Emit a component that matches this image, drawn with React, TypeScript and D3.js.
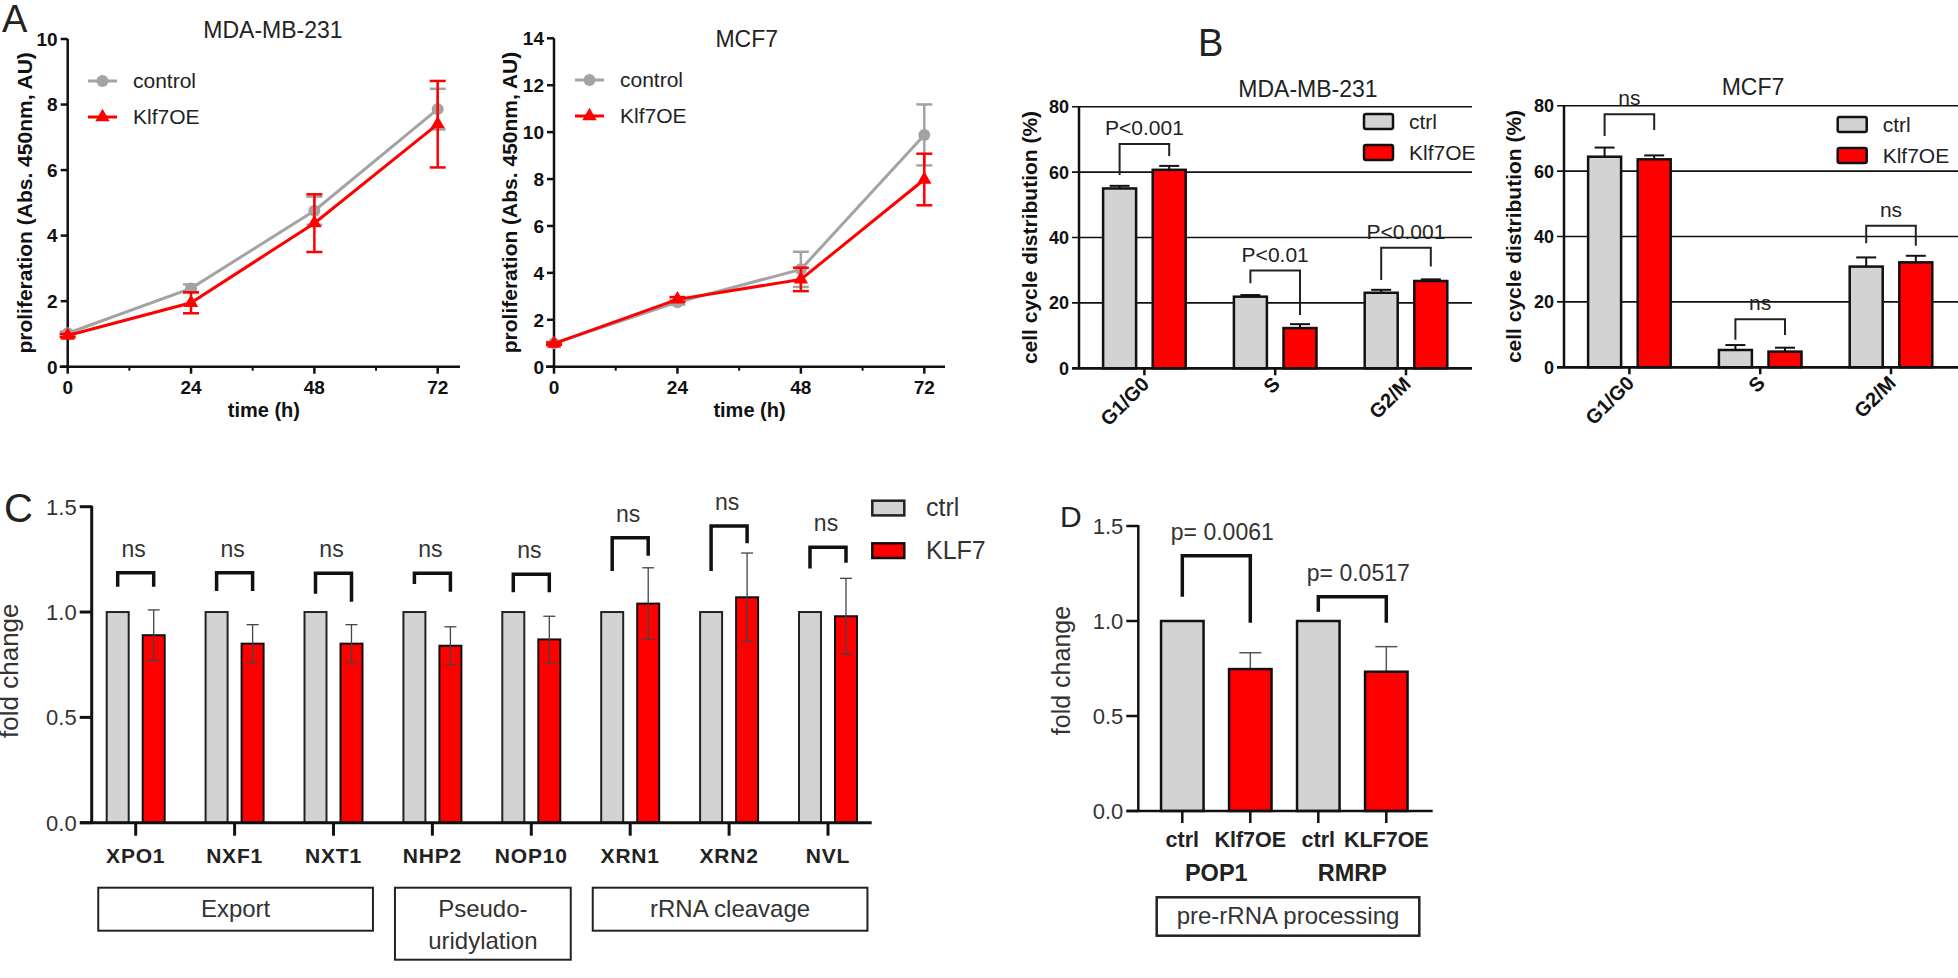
import React from 'react';
import * as d3 from 'd3';

const FONT = "'Liberation Sans', Arial, Helvetica, sans-serif";

// ---------- Panel A data ----------
const timePoints = [0, 24, 48, 72];
const minorTimes = [12, 36, 60];
const mdaControl = [1.02, 2.39, 4.76, 7.86];
const mdaControlErr = [0.05, 0.12, 0.43, 0.62];
const mdaKlf = [0.95, 1.95, 4.38, 7.4];
const mdaKlfErr = [0.05, 0.32, 0.88, 1.32];
const mcfControl = [1.0, 2.75, 4.15, 9.88];
const mcfControlErr = [0.05, 0.1, 0.75, 1.3];
const mcfKlf = [0.98, 2.87, 3.72, 7.98];
const mcfKlfErr = [0.05, 0.1, 0.5, 1.1];
const mdaYTicks = [0, 2, 4, 6, 8, 10];
const mcfYTicks = [0, 2, 4, 6, 8, 10, 12, 14];

// ---------- Panel B data ----------
const phases = ['G1/G0', 'S', 'G2/M'];
const ccYTicks = [0, 20, 40, 60, 80];
const mdaCcCtrl = [55.0, 21.9, 23.1];
const mdaCcCtrlErr = [0.8, 0.5, 0.9];
const mdaCcKlf = [60.7, 12.3, 26.7];
const mdaCcKlfErr = [1.2, 1.2, 0.5];
const mdaCcBracketLeft = [59.1, 26.0, 27.0];
const mdaCcBracketTop = [68.6, 29.9, 36.9];
const mdaCcBracketRight = [64.9, 16.3, 31.1];
const mdaCcLabels = ['P<0.001', 'P<0.01', 'P<0.001'];
const mcfCcCtrl = [64.4, 5.3, 30.8];
const mcfCcCtrlErr = [2.8, 1.5, 2.8];
const mcfCcKlf = [63.6, 4.8, 32.1];
const mcfCcKlfErr = [1.2, 1.2, 2.0];
const mcfCcBracketLeft = [70.7, 8.4, 37.9];
const mcfCcBracketTop = [77.4, 14.7, 43.3];
const mcfCcBracketRight = [72.6, 9.9, 37.2];
const mcfCcLabels = ['ns', 'ns', 'ns'];

// ---------- Panel C data ----------
const genes = ['XPO1', 'NXF1', 'NXT1', 'NHP2', 'NOP10', 'XRN1', 'XRN2', 'NVL'];
const geneCtrl = [1, 1, 1, 1, 1, 1, 1, 1];
const geneKlf = [0.89, 0.85, 0.85, 0.84, 0.87, 1.04, 1.07, 0.98];
const geneKlfErr = [0.12, 0.09, 0.09, 0.09, 0.11, 0.17, 0.21, 0.18];
const geneBracketTop = [1.186, 1.186, 1.184, 1.184, 1.179, 1.353, 1.408, 1.307];
const geneBracketLeft = [1.12, 1.1, 1.087, 1.133, 1.094, 1.195, 1.195, 1.207];
const geneBracketRight = [1.12, 1.1, 1.049, 1.096, 1.094, 1.267, 1.326, 1.234];
const foldTicks = [0, 0.5, 1.0, 1.5];
const geneGroups = [
  { lines: ['Export'], first: 0, last: 2 },
  { lines: ['Pseudo-', 'uridylation'], first: 3, last: 4 },
  { lines: ['rRNA cleavage'], first: 5, last: 7 },
];

// ---------- Panel D data ----------
const dConditions = ['ctrl', 'Klf7OE', 'ctrl', 'KLF7OE'];
const dGenes = ['POP1', 'RMRP'];
const dValues = [1.0, 0.747, 1.0, 0.733];
const dErr = [0, 0.086, 0, 0.132];
const dBracketLeft = [1.128, 1.049];
const dBracketTop = [1.344, 1.128];
const dBracketRight = [0.991, 0.991];
const dPLabels = ['p= 0.0061', 'p= 0.0517'];

const GRAY = '#d3d3d3';
const RED = '#ff0000';
const LINEGRAY = '#a3a3a3';

function LinePanel(props: any) {
  const { axisX, x72, endX, top, bottom, yMax, yTicks, ctrl, ctrlErr, klf, klfErr, title, titleX, titleY, legX, legY, labelX } = props;
  const x = d3.scaleLinear().domain([0, 72]).range([axisX, x72]);
  const y = d3.scaleLinear().domain([0, yMax]).range([bottom, top]);
  const line = d3.line<number>().x((_, i) => x(timePoints[i])).y((d) => y(d));
  const tri = d3.symbol().type(d3.symbolTriangle).size(90)();
  const errBar = (vals: number[], errs: number[], color: string, key: string) =>
    vals.map((v, i) => {
      const cx = x(timePoints[i]);
      return (
        <g key={key + i} stroke={color} strokeWidth={2.5}>
          <line x1={cx} x2={cx} y1={y(v + errs[i])} y2={y(v - errs[i])} />
          <line x1={cx - 8} x2={cx + 8} y1={y(v + errs[i])} y2={y(v + errs[i])} />
          <line x1={cx - 8} x2={cx + 8} y1={y(v - errs[i])} y2={y(v - errs[i])} />
        </g>
      );
    });
  return (
    <g fontFamily={FONT}>
      <text x={titleX} y={titleY} fontSize={23} textAnchor="middle" fill="#222">{title}</text>
      <line x1={axisX} x2={axisX} y1={y(0) + 1} y2={y(yMax)} stroke="#111" strokeWidth={2.5} />
      <line x1={axisX - 8} x2={endX} y1={y(0)} y2={y(0)} stroke="#111" strokeWidth={2.5} />
      {yTicks.map((t: number) => (
        <g key={'yt' + t}>
          <line x1={axisX - 7} x2={axisX} y1={y(t)} y2={y(t)} stroke="#111" strokeWidth={2.5} />
          <text x={axisX - 10} y={y(t)} dy="0.36em" fontSize={19} fontWeight="bold" textAnchor="end" fill="#111">{t}</text>
        </g>
      ))}
      {timePoints.map((t) => (
        <g key={'xt' + t}>
          <line x1={x(t)} x2={x(t)} y1={y(0)} y2={y(0) + 7} stroke="#111" strokeWidth={2.5} />
          <text x={x(t)} y={y(0) + 27} fontSize={19} fontWeight="bold" textAnchor="middle" fill="#111">{t}</text>
        </g>
      ))}
      {minorTimes.map((t) => (
        <line key={'mt' + t} x1={x(t)} x2={x(t)} y1={y(0)} y2={y(0) + 4} stroke="#111" strokeWidth={2} />
      ))}
      <text x={(axisX + endX) / 2} y={y(0) + 50} fontSize={20} fontWeight="bold" textAnchor="middle" fill="#111">time (h)</text>
      <text transform={`translate(${labelX},${(top + bottom) / 2}) rotate(-90)`} fontSize={21} fontWeight="bold" textAnchor="middle" fill="#111">proliferation (Abs. 450nm, AU)</text>
      {errBar(ctrl, ctrlErr, LINEGRAY, 'ce')}
      <path d={line(ctrl) || ''} fill="none" stroke={LINEGRAY} strokeWidth={3} />
      {ctrl.map((v: number, i: number) => (
        <circle key={'cp' + i} cx={x(timePoints[i])} cy={y(v)} r={6} fill={LINEGRAY} />
      ))}
      {errBar(klf, klfErr, RED, 'ke')}
      <path d={line(klf) || ''} fill="none" stroke={RED} strokeWidth={3} />
      {klf.map((v: number, i: number) => (
        <path key={'kp' + i} d={tri || ''} transform={`translate(${x(timePoints[i])},${y(v)})`} fill={RED} />
      ))}
      <line x1={legX} x2={legX + 29} y1={legY} y2={legY} stroke={LINEGRAY} strokeWidth={3} />
      <circle cx={legX + 14.5} cy={legY} r={6} fill={LINEGRAY} />
      <text x={legX + 45} y={legY + 7} fontSize={21} fill="#222">control</text>
      <line x1={legX} x2={legX + 29} y1={legY + 36} y2={legY + 36} stroke={RED} strokeWidth={3} />
      <path d={tri || ''} transform={`translate(${legX + 14.5},${legY + 36})`} fill={RED} />
      <text x={legX + 45} y={legY + 43} fontSize={21} fill="#222">Klf7OE</text>
    </g>
  );
}

function CellCyclePanel(props: any) {
  const { axisX, endX, top, bottom, ctrl, ctrlErr, klf, klfErr, bl, bt, br, labels, title, titleX, titleY, legX, legY, labelX } = props;
  const y = d3.scaleLinear().domain([0, 80]).range([bottom, top]);
  const xb = d3.scaleBand<string>().domain(phases).range([axisX, axisX + 3 * 130.8]);
  const cx = (p: string) => (xb(p) as number) + xb.bandwidth() / 2;
  const off = 24.8;
  const bw = 33;
  return (
    <g fontFamily={FONT}>
      <text x={titleX} y={titleY} fontSize={23} textAnchor="middle" fill="#222">{title}</text>
      {ccYTicks.map((t) => (
        <g key={'g' + t}>
          <line x1={axisX - 7} x2={endX} y1={y(t)} y2={y(t)} stroke="#111" strokeWidth={t === 0 ? 2.5 : 1.6} />
          <text x={axisX - 10} y={y(t)} dy="0.36em" fontSize={18} fontWeight="bold" textAnchor="end" fill="#111">{t}</text>
        </g>
      ))}
      <line x1={axisX} x2={axisX} y1={y(0)} y2={y(80)} stroke="#111" strokeWidth={2.5} />
      <text transform={`translate(${labelX},${(top + bottom) / 2}) rotate(-90)`} fontSize={21} fontWeight="bold" textAnchor="middle" fill="#111">cell cycle distribution (%)</text>
      {phases.map((p, i) => {
        const c = cx(p);
        const xl = c - off;
        const xr = c + off;
        return (
          <g key={p}>
            <line x1={xl} x2={xl} y1={y(ctrl[i])} y2={y(ctrl[i] + ctrlErr[i])} stroke="#111" strokeWidth={2} />
            <line x1={xl - 10} x2={xl + 10} y1={y(ctrl[i] + ctrlErr[i])} y2={y(ctrl[i] + ctrlErr[i])} stroke="#111" strokeWidth={2} />
            <line x1={xr} x2={xr} y1={y(klf[i])} y2={y(klf[i] + klfErr[i])} stroke="#111" strokeWidth={2} />
            <line x1={xr - 10} x2={xr + 10} y1={y(klf[i] + klfErr[i])} y2={y(klf[i] + klfErr[i])} stroke="#111" strokeWidth={2} />
            <rect x={xl - bw / 2} y={y(ctrl[i])} width={bw} height={y(0) - y(ctrl[i])} fill={GRAY} stroke="#111" strokeWidth={2.5} />
            <rect x={xr - bw / 2} y={y(klf[i])} width={bw} height={y(0) - y(klf[i])} fill={RED} stroke="#111" strokeWidth={2.5} />
            <line x1={c} x2={c} y1={y(0)} y2={y(0) + 7} stroke="#111" strokeWidth={2.5} />
            <text transform={`translate(${c + 6},${y(0) + 17}) rotate(-45)`} fontSize={20} fontWeight="bold" textAnchor="end" fill="#111">{p}</text>
            <path d={`M${xl},${y(bl[i])}V${y(bt[i])}H${xr}V${y(br[i])}`} fill="none" stroke="#222" strokeWidth={2} />
            <text x={c} y={y(bt[i]) - 9} fontSize={21} textAnchor="middle" fill="#222">{labels[i]}</text>
          </g>
        );
      })}
      <line x1={axisX - 7} x2={endX} y1={y(0)} y2={y(0)} stroke="#111" strokeWidth={2.5} />
      <rect x={legX} y={legY} width={29} height={15} rx={2} fill={GRAY} stroke="#111" strokeWidth={2.5} />
      <text x={legX + 45} y={legY + 15} fontSize={21} fill="#222">ctrl</text>
      <rect x={legX} y={legY + 31} width={29} height={15} rx={2} fill={RED} stroke="#111" strokeWidth={2.5} />
      <text x={legX + 45} y={legY + 46} fontSize={21} fill="#222">Klf7OE</text>
    </g>
  );
}

function GenePanel() {
  const axisX = 91.7;
  const y = d3.scaleLinear().domain([0, 1.5]).range([822.7, 506.7]);
  const xb = d3.scaleBand<string>().domain(genes).range([86.25, 86.25 + 8 * 98.9]);
  const cx = (g: string) => (xb(g) as number) + xb.bandwidth() / 2;
  const off = 18;
  const bw = 22;
  return (
    <g fontFamily={FONT}>
      <text x={4} y={522} fontSize={40} fill="#222">C</text>
      {foldTicks.map((t) => (
        <g key={'ct' + t}>
          <line x1={axisX - 12} x2={axisX} y1={y(t)} y2={y(t)} stroke="#111" strokeWidth={3} />
          <text x={axisX - 15} y={y(t)} dy="0.36em" fontSize={22} textAnchor="end" fill="#333">{t.toFixed(1)}</text>
        </g>
      ))}
      <line x1={axisX} x2={axisX} y1={y(0)} y2={y(1.5) - 1} stroke="#111" strokeWidth={3} />
      <text transform={`translate(18,${(506.7 + 822.7) / 2 + 6}) rotate(-90)`} fontSize={26} textAnchor="middle" fill="#333">fold change</text>
      {genes.map((g, i) => {
        const c = cx(g);
        const xl = c - off;
        const xr = c + off;
        return (
          <g key={g}>
            <rect x={xl - bw / 2} y={y(geneCtrl[i])} width={bw} height={y(0) - y(geneCtrl[i])} fill={GRAY} stroke="#222" strokeWidth={2} />
            <rect x={xr - bw / 2} y={y(geneKlf[i])} width={bw} height={y(0) - y(geneKlf[i])} fill={RED} stroke="#111" strokeWidth={2} />
            <g stroke="#444" strokeWidth={1.3}>
              <line x1={xr} x2={xr} y1={y(geneKlf[i] + geneKlfErr[i])} y2={y(geneKlf[i] - geneKlfErr[i])} />
              <line x1={xr - 6} x2={xr + 6} y1={y(geneKlf[i] + geneKlfErr[i])} y2={y(geneKlf[i] + geneKlfErr[i])} />
              <line x1={xr - 6} x2={xr + 6} y1={y(geneKlf[i] - geneKlfErr[i])} y2={y(geneKlf[i] - geneKlfErr[i])} />
            </g>
            <line x1={c} x2={c} y1={y(0)} y2={y(0) + 13} stroke="#111" strokeWidth={3} />
            <text x={c} y={862.7} fontSize={21} fontWeight="bold" letterSpacing={0.8} textAnchor="middle" fill="#222">{g}</text>
            <path d={`M${xl},${y(geneBracketLeft[i])}V${y(geneBracketTop[i])}H${xr}V${y(geneBracketRight[i])}`} fill="none" stroke="#111" strokeWidth={3.5} />
            <text x={c - 2} y={y(geneBracketTop[i]) - 16} fontSize={23} textAnchor="middle" fill="#333">ns</text>
          </g>
        );
      })}
      <line x1={80} x2={871.7} y1={y(0)} y2={y(0)} stroke="#111" strokeWidth={3} />
      {geneGroups.map((grp) => {
        const x0 = (xb(genes[grp.first]) as number) + 12;
        const x1 = (xb(genes[grp.last]) as number) + xb.bandwidth() - 10;
        const h = grp.lines.length > 1 ? 72 : 43;
        return (
          <g key={grp.lines.join('')}>
            <rect x={x0} y={887.7} width={x1 - x0} height={h} fill="white" stroke="#222" strokeWidth={2} />
            {grp.lines.map((ln, k) => (
              <text key={ln} x={(x0 + x1) / 2} y={917 + k * 31.5} fontSize={24} textAnchor="middle" fill="#333">{ln}</text>
            ))}
          </g>
        );
      })}
      <rect x={872.3} y={500.7} width={32} height={14.7} fill={GRAY} stroke="#222" strokeWidth={2.5} />
      <text x={926} y={516} fontSize={25} fill="#333">ctrl</text>
      <rect x={872.3} y={543.3} width={32} height={14.7} fill={RED} stroke="#111" strokeWidth={2.5} />
      <text x={926} y={559} fontSize={25} fill="#333">KLF7</text>
    </g>
  );
}

function ProcessingPanel() {
  const axisX = 1138.3;
  const y = d3.scaleLinear().domain([0, 1.5]).range([811, 526]);
  const idx = dConditions.map((_, i) => String(i));
  const xb = d3.scaleBand<string>().domain(idx).range([1148.3, 1148.3 + 4 * 68]);
  const cx = (i: number) => (xb(String(i)) as number) + xb.bandwidth() / 2;
  const bw = 42.5;
  return (
    <g fontFamily={FONT}>
      <text x={1060} y={527} fontSize={30} fill="#222">D</text>
      {foldTicks.map((t) => (
        <g key={'dt' + t}>
          <line x1={axisX - 12} x2={axisX} y1={y(t)} y2={y(t)} stroke="#111" strokeWidth={2.5} />
          <text x={axisX - 15} y={y(t)} dy="0.36em" fontSize={22} textAnchor="end" fill="#333">{t.toFixed(1)}</text>
        </g>
      ))}
      <line x1={axisX} x2={axisX} y1={y(0)} y2={y(1.5) - 1} stroke="#111" strokeWidth={2.5} />
      <text transform={`translate(1070,${(526 + 811) / 2 + 2}) rotate(-90)`} fontSize={25} textAnchor="middle" fill="#333">fold change</text>
      {dConditions.map((cnd, i) => {
        const c = cx(i);
        const v = dValues[i];
        return (
          <g key={'d' + i}>
            {dErr[i] > 0 && (
              <g stroke="#555" strokeWidth={1.5}>
                <line x1={c} x2={c} y1={y(v)} y2={y(v + dErr[i])} />
                <line x1={c - 11} x2={c + 11} y1={y(v + dErr[i])} y2={y(v + dErr[i])} />
              </g>
            )}
            <rect x={c - bw / 2} y={y(v)} width={bw} height={y(0) - y(v)} fill={i % 2 === 0 ? GRAY : RED} stroke="#111" strokeWidth={2.5} />
            <line x1={c} x2={c} y1={y(0)} y2={y(0) + 12} stroke="#111" strokeWidth={2.5} />
            <text x={c} y={846.7} fontSize={21.5} fontWeight="bold" textAnchor="middle" fill="#222">{cnd}</text>
          </g>
        );
      })}
      {dGenes.map((g, j) => {
        const xl = cx(2 * j);
        const xr = cx(2 * j + 1);
        return (
          <g key={g}>
            <text x={(xl + xr) / 2} y={880.7} fontSize={23.5} fontWeight="bold" textAnchor="middle" fill="#222">{g}</text>
            <path d={`M${xl},${y(dBracketLeft[j])}V${y(dBracketTop[j])}H${xr}V${y(dBracketRight[j])}`} fill="none" stroke="#111" strokeWidth={3.5} />
            <text x={(xl + xr) / 2 + 6} y={y(dBracketTop[j]) - 16} fontSize={23} textAnchor="middle" fill="#333">{dPLabels[j]}</text>
          </g>
        );
      })}
      <line x1={1126.7} x2={1432.7} y1={y(0)} y2={y(0)} stroke="#111" strokeWidth={2.5} />
      <rect x={1156.7} y={897.3} width={262.6} height={38.4} fill="white" stroke="#222" strokeWidth={2.5} />
      <text x={1288} y={924} fontSize={24} textAnchor="middle" fill="#333">pre-rRNA processing</text>
    </g>
  );
}

export default function App() {
  return (
    <svg width={1958} height={978} style={{ position: 'absolute', left: 0, top: 0, background: 'white' }}>
      <rect x={0} y={0} width={1958} height={978} fill="white" />
      <text x={2} y={32} fontSize={38} fontFamily={FONT} fill="#222">A</text>
      <LinePanel axisX={67.7} x72={437.7} endX={460} top={39} bottom={366.7} yMax={10} yTicks={mdaYTicks}
        ctrl={mdaControl} ctrlErr={mdaControlErr} klf={mdaKlf} klfErr={mdaKlfErr}
        title="MDA-MB-231" titleX={273} titleY={38} legX={88} legY={81} labelX={32} />
      <LinePanel axisX={554} x72={924.3} endX={945} top={38.3} bottom={366.7} yMax={14} yTicks={mcfYTicks}
        ctrl={mcfControl} ctrlErr={mcfControlErr} klf={mcfKlf} klfErr={mcfKlfErr}
        title="MCF7" titleX={746.7} titleY={47} legX={575} legY={80} labelX={517} />
      <text x={1198} y={56} fontSize={38} fontFamily={FONT} fill="#222">B</text>
      <CellCyclePanel axisX={1079} endX={1472} top={106.7} bottom={368.3}
        ctrl={mdaCcCtrl} ctrlErr={mdaCcCtrlErr} klf={mdaCcKlf} klfErr={mdaCcKlfErr}
        bl={mdaCcBracketLeft} bt={mdaCcBracketTop} br={mdaCcBracketRight} labels={mdaCcLabels}
        title="MDA-MB-231" titleX={1308} titleY={97} legX={1364} legY={114} labelX={1037} />
      <CellCyclePanel axisX={1564} endX={1958} top={105.7} bottom={367.3}
        ctrl={mcfCcCtrl} ctrlErr={mcfCcCtrlErr} klf={mcfCcKlf} klfErr={mcfCcKlfErr}
        bl={mcfCcBracketLeft} bt={mcfCcBracketTop} br={mcfCcBracketRight} labels={mcfCcLabels}
        title="MCF7" titleX={1753} titleY={95} legX={1837.7} legY={117} labelX={1521} />
      <GenePanel />
      <ProcessingPanel />
    </svg>
  );
}
